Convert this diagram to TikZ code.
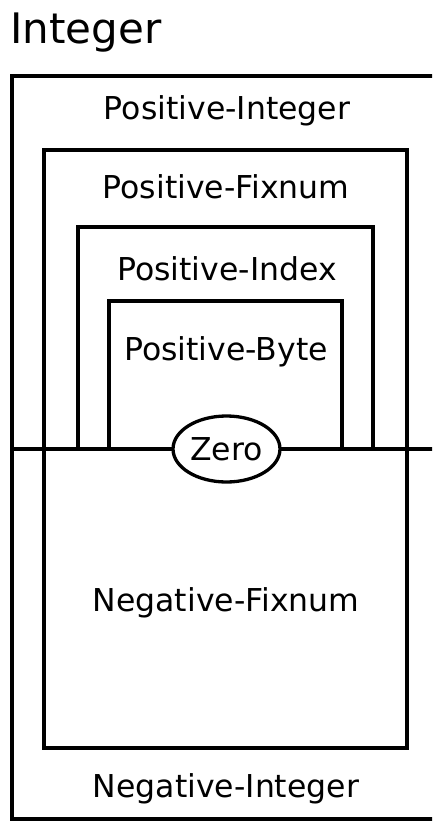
\documentclass[tikz,border=0pt]{standalone}
\usepackage{fontspec}
\setmainfont{DejaVu Sans}
\usetikzlibrary{shapes.geometric}
\begin{document}
\begin{tikzpicture}[x=1pt,y=-1pt,
  box/.style={line width=3.3pt, line join=miter},
  lbl/.style={inner sep=0pt, anchor=base, font=\fontsize{31.5}{36}\selectfont},
  title/.style={inner sep=0pt, anchor=base west, font=\fontsize{42}{50}\selectfont},
  zero/.style={ellipse, draw, line width=3.3pt, fill=white, minimum width=107pt, minimum height=66pt, inner sep=0pt, font=\fontsize{31.5}{36}\selectfont}]
\useasboundingbox[fill=white] (0,0) rectangle (432,821);
\begin{scope}
\clip (0,0) rectangle (432,821);
% outer Integer box
\draw[box] (12,76) rectangle (440,819);
% Positive-Fixnum / Negative-Fixnum box
\draw[box] (44,150) rectangle (407,748);
% Positive-Index
\draw[box] (78,449) -- (78,227) -- (373,227) -- (373,449);
% Positive-Byte
\draw[box] (109,449) -- (109,301) -- (342,301) -- (342,449);
% dividing line
\coordinate (divL) at (12,449);
\coordinate (divR) at (440,449);
\draw[box] (divL) -- (divR);
\end{scope}
\node[zero] (zero) at (226.5,449) {Zero};
\node[title] (integer) at (10,44) {Integer};
\node[lbl] (posint) at (227,120) {Positive-Integer};
\node[lbl] (posfix) at (226,198) {Positive-Fixnum};
\node[lbl] (posidx) at (227,280) {Positive-Index};
\node[lbl] (posbyte) at (226,360) {Positive-Byte};
\node[lbl] (negfix) at (226,611) {Negative-Fixnum};
\node[lbl] (negint) at (226,797) {Negative-Integer};
\end{tikzpicture}
\end{document}
